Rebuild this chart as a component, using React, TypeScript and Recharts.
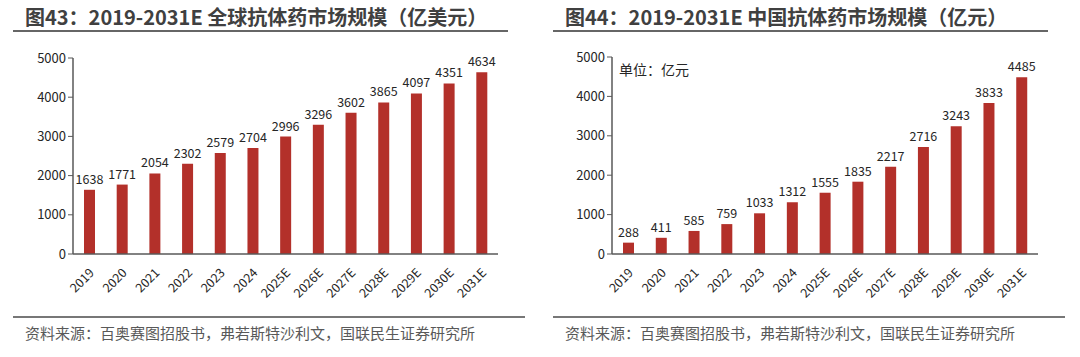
import React from "react";
import { BarChart, Bar, XAxis, YAxis, LabelList } from "recharts";

const years = ["2019", "2020", "2021", "2022", "2023", "2024", "2025E", "2026E", "2027E", "2028E", "2029E", "2030E", "2031E"];
const globalValues = [1638, 1771, 2054, 2302, 2579, 2704, 2996, 3296, 3602, 3865, 4097, 4351, 4634];
const chinaValues = [288, 411, 585, 759, 1033, 1312, 1555, 1835, 2217, 2716, 3243, 3833, 4485];
const yTicks = [0, 1000, 2000, 3000, 4000, 5000];
const title1 = "图43：2019-2031E 全球抗体药市场规模（亿美元）";
const title2 = "图44：2019-2031E 中国抗体药市场规模（亿元）";
const sourceText = "资料来源：百奥赛图招股书，弗若斯特沙利文，国联民生证券研究所";
const unitText = "单位：亿元";

const globalData = years.map((y, i) => ({ year: y, value: globalValues[i] }));
const chinaData = years.map((y, i) => ({ year: y, value: chinaValues[i] }));

const FONT = "'Noto Sans CJK SC', 'Noto Sans', sans-serif";
const BAR = "#B3302A";
const AXIS = "#595959";
const TEXT = "#262626";

const XTick = (props: any) => {
  const { x, y, payload } = props;
  return (
    <g transform={`translate(${x},${y + 6})`}>
      <text x={0} y={0} dy={8} textAnchor="end" transform="rotate(-45)" fontSize={12.5} fill={TEXT} fontFamily={FONT}>
        {payload.value}
      </text>
    </g>
  );
};

function Panel({ data, left, yLeft, title, unit }: any) {
  return (
    <div style={{ position: "absolute", left, top: 0, width: 540, height: 357 }}>
      <div style={{ position: "absolute", left: 25, top: 4, fontSize: 20, fontWeight: 700, color: "#404040", fontFamily: FONT, whiteSpace: "nowrap", lineHeight: "26px" }}>
        {title}
      </div>
      <div style={{ position: "absolute", left: 13, top: 30, width: 495, height: 2, background: "#666" }} />
      <div style={{ position: "absolute", left: 0, top: 0 }}>
        <BarChart width={540} height={300} data={data} margin={{ top: yLeft.top, left: yLeft.left, right: yLeft.right, bottom: 0 }}>
          <XAxis dataKey="year" height={46} interval={0} tick={<XTick />} tickLine={false} axisLine={{ stroke: AXIS, strokeWidth: 1.5 }} />
          <YAxis width={40} domain={[0, 5000]} ticks={yTicks} tick={{ fontSize: 13, fill: TEXT, fontFamily: FONT }} tickSize={5} tickLine={{ stroke: AXIS }} axisLine={{ stroke: AXIS, strokeWidth: 1.5 }} />
          <Bar dataKey="value" fill={BAR} barSize={11} isAnimationActive={false}>
            <LabelList dataKey="value" position="top" offset={6} style={{ fontSize: 12.5, fill: TEXT, fontFamily: FONT }} />
          </Bar>
        </BarChart>
      </div>
      {unit ? (
        <div style={{ position: "absolute", left: 79, top: 59, fontSize: 14, color: TEXT, fontFamily: FONT, lineHeight: "20px" }}>{unit}</div>
      ) : null}
      <div style={{ position: "absolute", left: 13, top: 316, width: 512, height: 2, background: "#777" }} />
      <div style={{ position: "absolute", left: 25, top: 322, fontSize: 15, color: "#595959", fontFamily: FONT, whiteSpace: "nowrap", lineHeight: "22px" }}>
        {sourceText}
      </div>
    </div>
  );
}

export default function App() {
  return (
    <div style={{ position: "absolute", left: 0, top: 0, width: 1080, height: 357, background: "#fff" }}>
      <Panel data={globalData} left={0} yLeft={{ top: 58, left: 33, right: 42 }} title={title1} />
      <Panel data={chinaData} left={540} yLeft={{ top: 57, left: 32, right: 42 }} title={title2} unit={unitText} />
    </div>
  );
}
